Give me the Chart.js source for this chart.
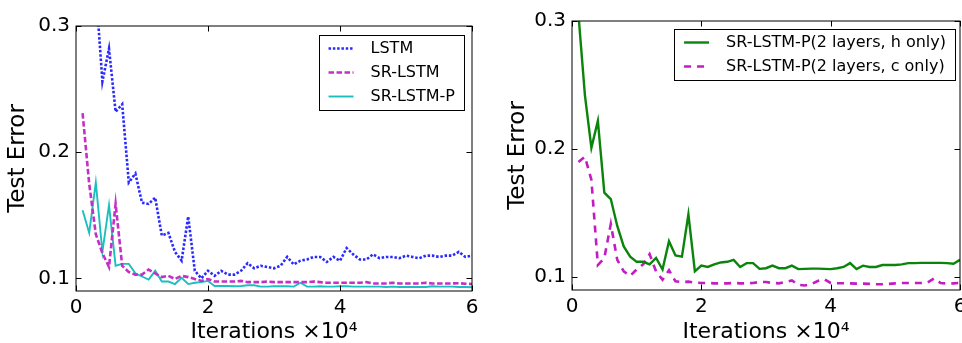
<!DOCTYPE html>
<html>
<head>
<meta charset="utf-8">
<script src="https://cdn.jsdelivr.net/npm/chart.js@4.4.1/dist/chart.umd.min.js"></script>
<style>
  html, body { margin: 0; padding: 0; background: #fff; }
  body { width: 962px; height: 343px; position: relative; overflow: hidden; }
  canvas { position: absolute; top: 0; }
  #left { left: 0; }
  #right { left: 481px; }
</style>
</head>
<body>
<canvas id="left" width="481" height="343"></canvas>
<canvas id="right" width="481" height="343"></canvas>
<script>
// x positions, in units of 10^4 iterations
const iterations = [
  0.1, 0.2, 0.3, 0.4, 0.5, 0.6, 0.7, 0.8, 0.9, 1.0,
  1.1, 1.2, 1.3, 1.4, 1.5, 1.6, 1.7, 1.8, 1.9, 2.0,
  2.1, 2.2, 2.3, 2.4, 2.5, 2.6, 2.7, 2.8, 2.9, 3.0,
  3.1, 3.2, 3.3, 3.4, 3.5, 3.6, 3.7, 3.8, 3.9, 4.0,
  4.1, 4.2, 4.3, 4.4, 4.5, 4.6, 4.7, 4.8, 4.9, 5.0,
  5.1, 5.2, 5.3, 5.4, 5.5, 5.6, 5.7, 5.8, 5.9, 6.0
];

// left panel
const lstm = [
  0.42, 0.37, 0.33, 0.256, 0.282, 0.232, 0.238, 0.176, 0.183, 0.160,
  0.159, 0.164, 0.134, 0.136, 0.121, 0.114, 0.149, 0.106, 0.100, 0.106,
  0.102, 0.106, 0.103, 0.103, 0.106, 0.112, 0.108, 0.110, 0.109, 0.108,
  0.110, 0.117, 0.111, 0.114, 0.115, 0.117, 0.117, 0.113, 0.117, 0.114,
  0.124, 0.119, 0.115, 0.115, 0.119, 0.116, 0.117, 0.117, 0.116, 0.118,
  0.117, 0.116, 0.118, 0.118, 0.117, 0.118, 0.118, 0.121, 0.117, 0.118
];
const srLstm = [
  0.231, 0.175, 0.135, 0.120, 0.109, 0.159, 0.110, 0.105, 0.103, 0.103,
  0.107, 0.104, 0.101, 0.102, 0.0995, 0.102, 0.101, 0.0995, 0.098, 0.0995,
  0.0975, 0.0975, 0.0975, 0.0975, 0.098, 0.097, 0.097, 0.097, 0.0975, 0.097,
  0.097, 0.097, 0.097, 0.097, 0.097, 0.0975, 0.097, 0.0965, 0.0965, 0.0965,
  0.0965, 0.0965, 0.0965, 0.097, 0.096, 0.096, 0.096, 0.0965, 0.096, 0.096,
  0.096, 0.096, 0.0965, 0.096, 0.096, 0.096, 0.096, 0.0962, 0.0958, 0.0955
];
const srLstmP = [
  0.154, 0.136, 0.176, 0.121, 0.158, 0.110, 0.1115, 0.1115, 0.104, 0.1015,
  0.099, 0.106, 0.0975, 0.0975, 0.0955, 0.1005, 0.0955, 0.0965, 0.097, 0.098,
  0.094, 0.094, 0.094, 0.0938, 0.094, 0.0945, 0.0945, 0.0935, 0.0935, 0.0938,
  0.0938, 0.0938, 0.0935, 0.0965, 0.0935, 0.0935, 0.0938, 0.0935, 0.0935, 0.0938,
  0.0938, 0.0935, 0.0935, 0.0935, 0.0935, 0.0935, 0.0932, 0.0935, 0.0932, 0.0932,
  0.0932, 0.0932, 0.0932, 0.0938, 0.0935, 0.0935, 0.0935, 0.0932, 0.0932, 0.093
];

// right panel
const hOnly = [
  0.305, 0.242, 0.201, 0.222, 0.166, 0.161, 0.140, 0.124, 0.116, 0.112,
  0.112, 0.110, 0.115, 0.106, 0.128, 0.117, 0.116, 0.149, 0.1045, 0.109,
  0.108, 0.110, 0.1115, 0.112, 0.1135, 0.108, 0.111, 0.111, 0.1065, 0.107,
  0.109, 0.107, 0.107, 0.109, 0.1063, 0.1065, 0.1067, 0.1067, 0.1065, 0.1063,
  0.107, 0.108, 0.111, 0.1063, 0.109, 0.108, 0.108, 0.1095, 0.1095, 0.1095,
  0.110, 0.111, 0.111, 0.1112, 0.1112, 0.1112, 0.1112, 0.111, 0.1105, 0.1135
];
const cOnly = [
  0.190, 0.194, 0.176, 0.1095, 0.115, 0.1415, 0.1135, 0.1045, 0.101, 0.106,
  0.110, 0.118, 0.1045, 0.098, 0.1055, 0.0968, 0.0962, 0.0965, 0.0958, 0.0955,
  0.0955, 0.0952, 0.0952, 0.0952, 0.0955, 0.0952, 0.0952, 0.0955, 0.0962, 0.0962,
  0.0955, 0.0952, 0.0962, 0.0975, 0.094, 0.0935, 0.0945, 0.097, 0.0985, 0.0955,
  0.0953, 0.0953, 0.0952, 0.095, 0.095, 0.0948, 0.0945, 0.0945, 0.0948, 0.0952,
  0.0955, 0.0955, 0.0955, 0.0955, 0.0958, 0.099, 0.0955, 0.095, 0.0952, 0.0955
];

const xTicks = [0, 2, 4, 6];
const yTicks = [0.1, 0.2, 0.3];

const FONT = 'DejaVu Sans';
const pts = (ys) => iterations.map((x, i) => ({ x: x, y: ys[i] }));

// box, inward ticks on all sides, and a matplotlib-like legend inside the axes
const frame = {
  id: 'frame',
  afterDatasetsDraw(chart, args, opts) {
    const { ctx, chartArea: a, scales: { x, y } } = chart;
    ctx.save();
    ctx.strokeStyle = '#000';
    ctx.lineWidth = 1;
    ctx.setLineDash([]);
    ctx.strokeRect(a.left, a.top, a.right - a.left, a.bottom - a.top);
    ctx.beginPath();
    const tl = 5.5;
    x.ticks.forEach(t => {
      const px = Math.round(x.getPixelForValue(t.value)) + 0.5;
      ctx.moveTo(px, a.bottom); ctx.lineTo(px, a.bottom - tl);
      ctx.moveTo(px, a.top); ctx.lineTo(px, a.top + tl);
    });
    y.ticks.forEach(t => {
      const py = Math.round(y.getPixelForValue(t.value)) + 0.5;
      ctx.moveTo(a.left, py); ctx.lineTo(a.left + tl, py);
      ctx.moveTo(a.right, py); ctx.lineTo(a.right - tl, py);
    });
    ctx.stroke();

    // legend
    ctx.font = '16px "' + FONT + '"';
    const sets = chart.data.datasets;
    const textW = Math.max(...sets.map(d => ctx.measureText(d.label).width));
    const w = 52 + textW + 9;
    const h = 26.5 + (sets.length - 1) * 24;
    const bx = a.right - opts.right - w;
    const by = a.top + opts.top;
    ctx.fillStyle = '#fff';
    ctx.fillRect(bx, by, w, h);
    ctx.strokeStyle = '#000';
    ctx.strokeRect(Math.round(bx) + 0.5, Math.round(by) + 0.5, Math.round(w), Math.round(h));
    sets.forEach((d, i) => {
      const cy = by + 13.5 + i * 24;
      ctx.beginPath();
      ctx.strokeStyle = d.borderColor;
      ctx.lineWidth = d.borderWidth;
      ctx.setLineDash(d.borderDash || []);
      ctx.moveTo(bx + 10, cy);
      ctx.lineTo(bx + 35, cy);
      ctx.stroke();
      ctx.setLineDash([]);
      ctx.fillStyle = '#000';
      ctx.textBaseline = 'middle';
      ctx.textAlign = 'left';
      ctx.fillText(d.label, bx + 52, cy);
    });
    ctx.restore();
  }
};

function makeChart(id, datasets, lay) {
  new Chart(document.getElementById(id), {
    type: 'line',
    data: { datasets: datasets },
    options: {
      responsive: false,
      animation: false,
      layout: { padding: { left: 0, top: lay.top, right: lay.right, bottom: 0 } },
      elements: { point: { radius: 0 }, line: { tension: 0 } },
      plugins: {
        legend: { display: false },
        tooltip: { enabled: false },
        frame: { right: lay.legRight, top: lay.legTop }
      },
      scales: {
        x: {
          type: 'linear', min: 0, max: 6,
          grid: { display: false, drawTicks: false },
          border: { display: false },
          afterBuildTicks: s => { s.ticks = xTicks.map(v => ({ value: v })); },
          afterFit: s => { s.height = lay.xh; s.paddingLeft = 0; s.paddingRight = 0; },
          ticks: { color: '#000', padding: 5, maxRotation: 0, font: { family: FONT, size: 20 },
                   callback: v => String(v) },
          title: { display: true, text: 'Iterations ×10⁴', color: '#000',
                   font: { family: FONT, size: 22, lineHeight: 1 }, padding: 0 }
        },
        y: {
          type: 'linear', min: 0.09, max: 0.3,
          grid: { display: false, drawTicks: false },
          border: { display: false },
          afterBuildTicks: s => { s.ticks = yTicks.map(v => ({ value: v })); },
          afterFit: s => { s.width = lay.yw; s.paddingTop = 0; s.paddingBottom = 0; },
          ticks: { color: '#000', padding: 6, font: { family: FONT, size: 20 },
                   callback: v => v.toFixed(1) },
          title: { display: true, text: 'Test Error', color: '#000',
                   font: { family: FONT, size: 23, lineHeight: 1.2 }, padding: { top: lay.titlePad, bottom: 0 } }
        }
      }
    },
    plugins: [frame]
  });
}

makeChart('left', [
  { label: 'LSTM', data: pts(lstm), borderColor: '#2a2aff', borderWidth: 2.6, borderDash: [2.5, 1.8] },
  { label: 'SR-LSTM', data: pts(srLstm), borderColor: '#c52fc5', borderWidth: 2.6, borderDash: [5.5, 2.5] },
  { label: 'SR-LSTM-P', data: pts(srLstmP), borderColor: '#1cbfbf', borderWidth: 1.9 }
], { top: 26, right: 9, xh: 52, yw: 76, titlePad: 4, legRight: 8, legTop: 9 });

makeChart('right', [
  { label: 'SR-LSTM-P(2 layers, h only)', data: pts(hOnly), borderColor: '#0b840b', borderWidth: 2.4 },
  { label: 'SR-LSTM-P(2 layers, c only)', data: pts(cOnly), borderColor: '#c21cc2', borderWidth: 2.6, borderDash: [7, 6] }
], { top: 21, right: 2, xh: 53, yw: 91, titlePad: 23, legRight: 5, legTop: 8 });
</script>
</body>
</html>
